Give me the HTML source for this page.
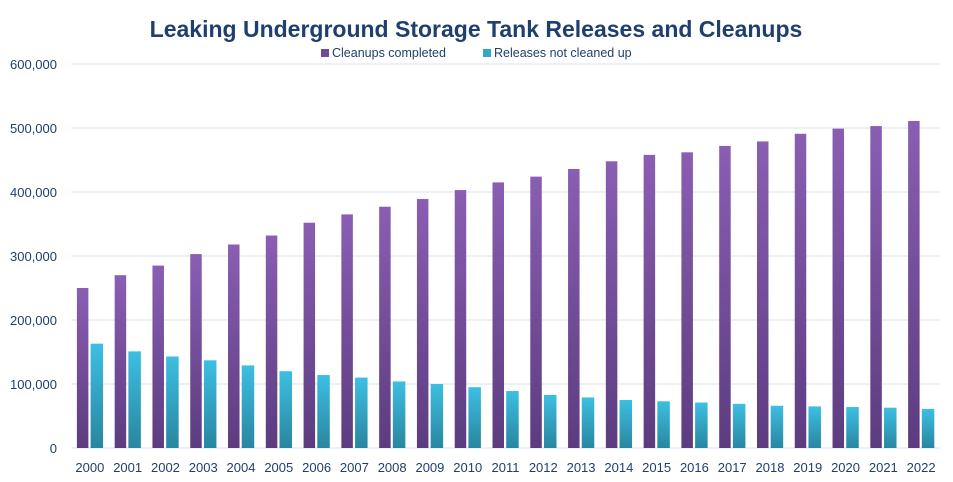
<!DOCTYPE html>
<html><head><meta charset="utf-8"><style>
body{margin:0;background:#fff;font-family:"Liberation Sans",sans-serif}
svg{display:block}
</style></head><body>
<svg id="c" width="953" height="482">
<defs>
<linearGradient id="gp" x1="0" y1="0" x2="0" y2="1"><stop offset="0" stop-color="#8a5eb3"/><stop offset="1" stop-color="#5c3c7f"/></linearGradient>
<linearGradient id="gc" x1="0" y1="0" x2="0" y2="1"><stop offset="0" stop-color="#3dbfe2"/><stop offset="1" stop-color="#2986a0"/></linearGradient>
</defs>
<text x="476" y="37" text-anchor="middle" font-size="23" font-weight="bold" fill="#1f3f6e">Leaking Underground Storage Tank Releases and Cleanups</text>
<g>
<rect x="321" y="49" width="8" height="8" fill="#6e4a98"/>
<text x="332" y="57" font-size="12.5" fill="#1f3f6e">Cleanups completed</text>
<rect x="483" y="49" width="8" height="8" fill="#31a8c9"/>
<text x="494" y="57" font-size="12.5" fill="#1f3f6e">Releases not cleaned up</text>
</g>
<g id="grid"></g><g id="bars"></g><g id="labels"></g>
</svg>
<script>
const categories=["2000","2001","2002","2003","2004","2005","2006","2007","2008","2009","2010","2011","2012","2013","2014","2015","2016","2017","2018","2019","2020","2021","2022"];
const cleanups=[250000,270000,285000,303000,318000,332000,352000,365000,377000,389000,403000,415000,424000,436000,448000,458000,462000,472000,479000,491000,499000,503000,511000];
const releases=[163000,151000,143000,137000,129000,120000,114000,110000,104000,100000,95000,89000,83000,79000,75000,73000,71000,69000,66000,65000,64000,63000,61000];
const yTicks=[0,100000,200000,300000,400000,500000,600000];
const ns="http://www.w3.org/2000/svg";
const X0=71,X1=940,Y0=448,Y1=64,YMAX=600000;
const step=(X1-X0)/categories.length;
const y=v=>Y0-(v/YMAX)*(Y0-Y1);
const xc=i=>X0+step*(i+0.5);
function mk(t,a,p){const e=document.createElementNS(ns,t);for(const k in a)e.setAttribute(k,a[k]);p.appendChild(e);return e;}
const grid=document.getElementById('grid'),bars=document.getElementById('bars'),labels=document.getElementById('labels');
yTicks.forEach(t=>{
 const l=mk('line',{x1:X0,x2:X1,y1:y(t),y2:y(t),stroke:'#d9e3f0','stroke-width':1},grid);
 
 
 const tx=mk('text',{x:57,y:y(t)+5,'text-anchor':'end','font-size':13,fill:'#1f3f6e'},labels);
 tx.textContent=t.toLocaleString('en-US');
 
 
});
categories.forEach((c,i)=>{
 const cx=xc(i);
 const b1=mk('rect',{x:cx-13,y:y(cleanups[i]),width:11.5,height:Y0-y(cleanups[i]),fill:'url(#gp)'},bars);
 
 
 const b2=mk('rect',{x:cx+0.7,y:y(releases[i]),width:12.5,height:Y0-y(releases[i]),fill:'url(#gc)'},bars);
 
 
 const tx=mk('text',{x:cx,y:472,'text-anchor':'middle','font-size':13,fill:'#1f3f6e'},labels);
 tx.textContent=c;
 
 
});
</script>
</body></html>
